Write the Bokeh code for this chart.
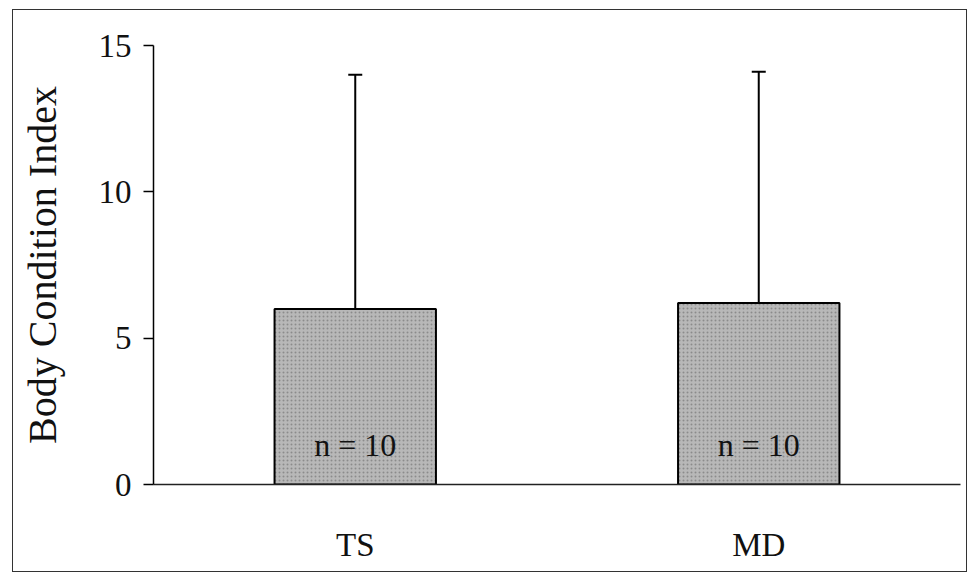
from bokeh.plotting import figure
from bokeh.models import ColumnDataSource, Whisker, TeeHead, FixedTicker, FactorRange, Range1d
from bokeh.embed import file_html
from bokeh.resources import INLINE

categories = ["TS", "MD"]
means = [6.0, 6.2]
upper_err = [14.0, 14.1]
n_labels = ["n = 10", "n = 10"]
y_ticks = [0, 5, 10, 15]

FONT = "Liberation Serif"

src = ColumnDataSource(data=dict(cat=categories, mean=means, upper=upper_err,
                                 lab=n_labels, laby=[1.35, 1.35]))

p = figure(x_range=FactorRange(factors=categories, range_padding=0.0),
           y_range=Range1d(0, 15),
           width=955, height=563, output_backend="svg", toolbar_location=None,
           min_border_left=140, min_border_right=8, min_border_top=35, min_border_bottom=89)
p.styles = {"border": "1.5px solid #333", "margin-left": "12px", "margin-top": "9px"}

p.vbar(x="cat", top="mean", width=0.4, source=src, fill_color="#b8b8b8",
       line_color="black", line_width=2,
       hatch_pattern="dot", hatch_color="#555555", hatch_scale=4, hatch_alpha=0.45)

w = Whisker(base="cat", lower="mean", upper="upper", source=src,
            line_color="black", line_width=2,
            upper_head=TeeHead(size=14, line_color="black", line_width=2),
            lower_head=None)
p.add_layout(w)

p.text(x="cat", y="laby", text="lab", source=src, text_align="center",
       text_baseline="alphabetic", text_font_size="32px", text_color="#111",
       text_font={"value": FONT})

p.grid.visible = False
p.outline_line_color = None
p.background_fill_color = "white"

ya = p.yaxis[0]
ya.ticker = FixedTicker(ticks=y_ticks)
ya.axis_label = "Body Condition Index"
ya.axis_label_text_font = FONT
ya.axis_label_text_font_style = "normal"
ya.axis_label_text_font_size = "40px"
ya.axis_label_text_color = "#111"
ya.axis_label_standoff = 31
ya.major_label_text_font = FONT
ya.major_label_text_font_size = "33px"
ya.major_label_text_color = "#111"
ya.major_label_standoff = 12
ya.major_tick_out = 10
ya.major_tick_in = 0
ya.minor_tick_line_color = None
ya.axis_line_width = 1.5
ya.major_tick_line_width = 1.5
ya.axis_line_color = "black"

xa = p.xaxis[0]
xa.major_tick_line_color = None
xa.minor_tick_line_color = None
xa.major_tick_out = 0
xa.major_label_standoff = 42
xa.major_label_text_font = FONT
xa.major_label_text_font_size = "33px"
xa.major_label_text_color = "#111"
xa.axis_line_width = 1.5
xa.axis_line_color = "#222"

open("out.html", "w").write(file_html(p, INLINE))
